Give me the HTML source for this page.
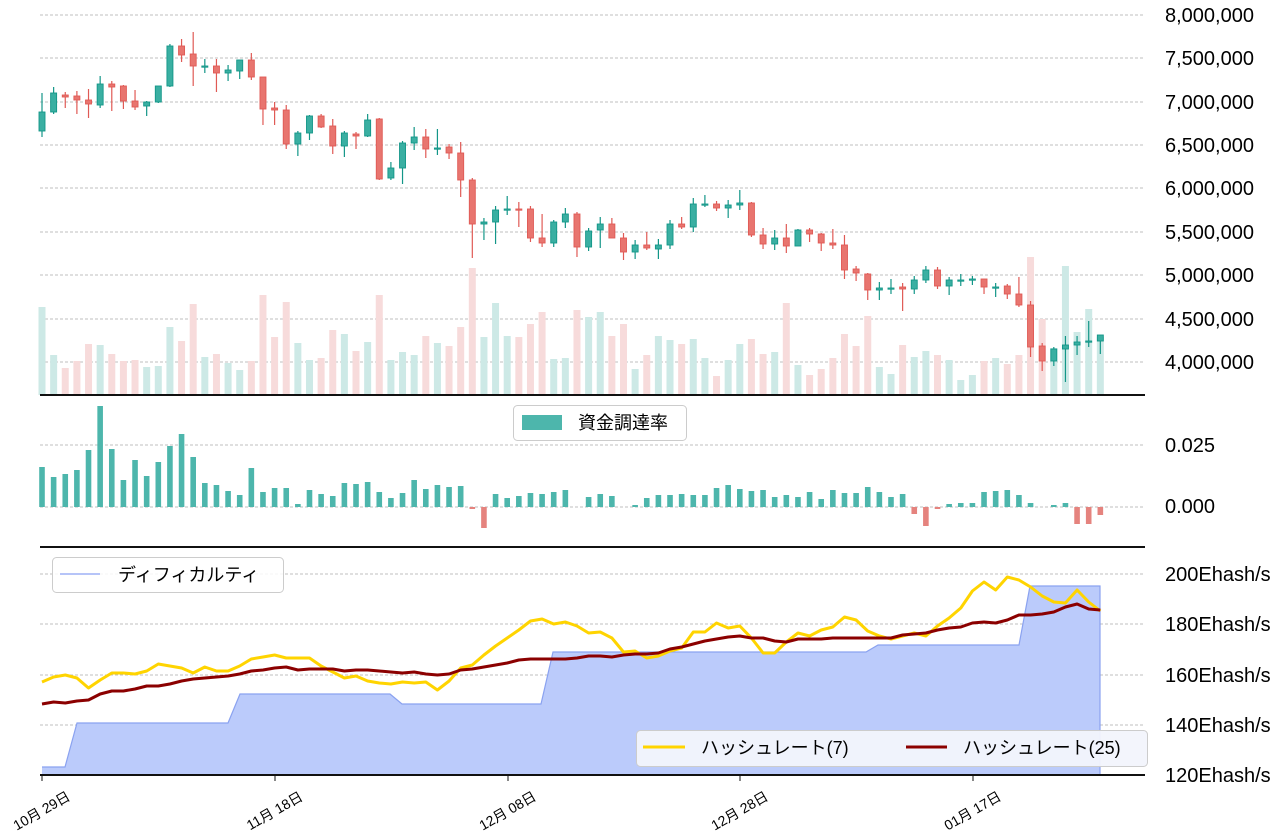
<!DOCTYPE html>
<html><head><meta charset="utf-8"><style>
body{margin:0;background:#fff;width:1285px;height:838px;overflow:hidden}
svg{display:block;font-family:"Liberation Sans","Noto Sans CJK JP",sans-serif}
</style></head><body>
<svg id="s" width="1285" height="838" xmlns="http://www.w3.org/2000/svg">
<g id="grid" stroke="#aaa" stroke-dasharray="3,2" stroke-width="0.8"></g>
<g id="vol"></g><g id="cand"></g><g id="fund"></g><g id="hash"></g>
<g fill="#000" font-size="20">
<text x="1165" y="22">8,000,000</text><text x="1165" y="65">7,500,000</text><text x="1165" y="109">7,000,000</text>
<text x="1165" y="152">6,500,000</text><text x="1165" y="195">6,000,000</text><text x="1165" y="239">5,500,000</text>
<text x="1165" y="282">5,000,000</text><text x="1165" y="326">4,500,000</text><text x="1165" y="369">4,000,000</text>
<text x="1165" y="452">0.025</text><text x="1165" y="513">0.000</text>
<text x="1165" y="581">200Ehash/s</text><text x="1165" y="631">180Ehash/s</text><text x="1165" y="682">160Ehash/s</text>
<text x="1165" y="732">140Ehash/s</text><text x="1165" y="782">120Ehash/s</text>
</g>
<g stroke="#111" stroke-width="2"><line x1="40" y1="395" x2="1145" y2="395"/><line x1="40" y1="547" x2="1145" y2="547"/><line x1="40" y1="775" x2="1145" y2="775"/></g>
<g stroke="#111" stroke-width="1"><line x1="42" y1="775" x2="42" y2="781"/><line x1="275" y1="775" x2="275" y2="781"/><line x1="508" y1="775" x2="508" y2="781"/><line x1="740" y1="775" x2="740" y2="781"/><line x1="973" y1="775" x2="973" y2="781"/></g>
<g font-size="14" fill="#000" text-anchor="middle">
<text transform="translate(44,815) rotate(-30)">10月 29日</text>
<text transform="translate(277,815) rotate(-30)">11月 18日</text>
<text transform="translate(510,815) rotate(-30)">12月 08日</text>
<text transform="translate(742,815) rotate(-30)">12月 28日</text>
<text transform="translate(975,815) rotate(-30)">01月 17日</text>
</g>
<rect x="513.5" y="405.5" width="173" height="35" rx="4" fill="#fff" stroke="#ccc"/>
<rect x="522" y="415" width="40" height="15" fill="#4db6ac"/>
<text x="578" y="429" font-size="18">資金調達率</text>
<rect x="52.5" y="557.5" width="231" height="35" rx="4" fill="#fff" fill-opacity="0.85" stroke="#ccc"/>
<line x1="60" y1="574" x2="100" y2="574" stroke="#9db0f5" stroke-width="1.5"/>
<text x="118" y="581" font-size="18">ディフィカルティ</text>
<rect x="636.5" y="730.5" width="511" height="36" rx="4" fill="#f2f4fc" fill-opacity="0.95" stroke="#ccc"/>
<line x1="643" y1="747" x2="685" y2="747" stroke="#ffd400" stroke-width="3"/>
<text x="701" y="754" font-size="18">ハッシュレート(7)</text>
<line x1="906" y1="747" x2="947" y2="747" stroke="#8b0000" stroke-width="3"/>
<text x="963" y="754" font-size="18">ハッシュレート(25)</text>
</svg>
<script>
var NS="http://www.w3.org/2000/svg";
function el(p,t,a){var e=document.createElementNS(NS,t);for(var k in a)e.setAttribute(k,a[k]);document.getElementById(p).appendChild(e);return e;}
[15,58,102,145,188,232,275,319,362,445,507,574,624,675,725].forEach(function(y){el("grid","line",{x1:40,x2:1145,y1:y,y2:y});});
var C=[[131,112,93,137],[112,93,87,114],[95,97,92,108],[96,100,91,114],[100,104,89,118],[105,84,76,108],[84,87,81,111],[86,101,85,109],[101,107,90,110],[106,102,101,116],[102,86,86,103],[86,46,44,87],[46,55,39,62],[54,66,32,86],[66.5,66,59,73],[66,73,59,92],[73,70,65,81],[71,60,60,79],[60,77,53,80],[77,109,77,125],[108,110,102,125],[110,144,105,149],[144,133,131,156],[133,116,115,140],[116,127,114,128],[126,146,119,154],[146,133,131,157],[134,136,132,149],[136,120,114,137],[119,179,118,180],[178,168,162,180],[168,143,141,184],[143,137,127,150],[137,149,129,158],[148.5,148,129,155],[147,153,144,159],[153,180,142,197],[180,224,178,258],[224,222,218,240],[222,210,206,244],[210,209,196,215],[209,209.5,202,227],[209,238,206,242],[238,243,214,247],[243,222,220,247],[222,214,208,228],[214,247,212,257],[247,231,228,251],[230,224,217,248],[224,238,218,238],[238,252,233,260],[252,245,240,259],[245,248,232,250],[249,245,239,259],[245,224,220,249],[224,227,217,229],[227,204,198,232],[204.5,204,195,207],[204,208,201,211],[208,205,200,218],[205,203,190,210],[203,235,202,237],[235,244,228,249],[244,238,230,250],[238,246,224,253],[246,230,229,246],[230,234,228,242],[234,243,233,251],[243,245,229,249],[245,270,235,279],[269,273,266,281],[274,290,273,300],[290,288,282,300],[288.5,288,279,294],[287,289,283,311],[289,280,276,294],[280,270,266,283],[270,286,267,289],[286,280,277,295],[280.5,280,274,286],[280,279,276,285],[279,287,279,294],[287.5,287,283,297],[286,294,284,299],[294,305,277,307],[305,347,301,357],[346,361,343,371],[361,349,347,366],[349,345,336,382],[345,342,336,355],[342,341,321,347],[341,335,335,354]];
var V=[307,355,368,361,344,345,354,361,360,367,366,327,341,304,357,354,363,370,361,295,337,302,343,360,358,330,334,351,342,295,360,352,355,336,343,346,327,268,337,303,336,337,324,312,359,358,310,317,312,336,324,369,355,336,340,344,339,358,376,360,344,339,354,352,303,365,375,369,358,334,346,316,367,374,345,357,351,355,360,380,375,361,358,364,355,257,319,348,266,332,309,337];
var dx=11.63;
C.forEach(function(c,i){var x=42+dx*i;
 var g=c[1]<c[0];var col=g?"#139688":"#e05a55",fill=g?"#3aafa2":"#e8756f";
 el("vol","rect",{x:x-3.5,y:V[i],width:7,height:395-V[i],fill:g?"#cde9e6":"#f7dbdb"});
 el("cand","line",{x1:x,x2:x,y1:c[2],y2:c[3],stroke:col,"stroke-width":1.2});
 var t=Math.min(c[0],c[1]),h=Math.max(Math.abs(c[0]-c[1]),1.2);
 el("cand","rect",{x:x-3,y:t,width:6,height:h,fill:fill,stroke:col,"stroke-width":0.9});
});
var F=[40,30,33,37,57,101,58,27,47,31,45,61,73,50,24,22,16,12,39,15,19,19,3,17,13,11,24,23,25,15,9,14,27,18,22,20,21,-2,-21,13,9,11,14,13,15,17,0,10,13,11,0,2,9,12,12,13,12,12,19,22,18,16,17,10,12,10,15,8,17,14,14,20,15,10,13,-7,-19,-2,3,4,4,15,16,17,12,4,0,2,4,-17,-17,-8];
F.forEach(function(v,i){if(!v)return;var x=42+dx*i,s=v*1.0;
 el("fund","rect",{x:x-2.8,y:v>0?507-s:507,width:5.6,height:Math.abs(s),fill:v>0?"#4db6ac":"#e5837e"});});
var D="42,775 42,767 65,767 77,723 228,723 240,694 390,694 402,704 541,704 553,652 866,652 878,645 1019,645 1030,586 1100,586 1100,775";
el("hash","polygon",{points:D,fill:"#bbcbfb"});
el("hash","polyline",{points:"42,767 65,767 77,723 228,723 240,694 390,694 402,704 541,704 553,652 866,652 878,645 1019,645 1030,586 1100,586 1100,775",fill:"none",stroke:"#8aa2f0","stroke-width":1.2});
var Y=[682,677,675,678,688,680,673,673,674,671,664,666,668,673,667,671,671,666,659,657,655,658,658,658,666,672,678,676,681,683,684,682,683,682,690,681,668,665,655,646,638,630,621,619,624,622,626,633,632,638,652,651,658,656,651,648,632,632,623,628,626,638,653,653,642,633,636,630,627,617,620,631,636,639,636,633,636,626,618,608,591,582,590,577,580,587,596,602,603,590,602,611];
var R=[704,702,703,701,700,694,691,691,689,686,686,684,681,679,678,677,676,674,671,670,668,667,670,669,669,669,671,670,670,671,672,673,672,674,675,674,670,669,667,665,663,660,659,659,659,659,658,656,656,657,655,654,654,653,649,647,644,641,639,637,636,638,638,641,642,639,639,639,638,638,638,638,638,638,635,634,633,630,628,627,623,622,623,620,615,615,614,612,607,604,609,610];
function pl(a,c){el("hash","polyline",{points:a.map(function(y,i){return (42+dx*i).toFixed(1)+","+y}).join(" "),fill:"none",stroke:c,"stroke-width":3,"stroke-linejoin":"round"});}
pl(Y,"#ffd400");pl(R,"#8b0000");
var s=document.getElementById("s");
var leg=[].slice.call(s.querySelectorAll("rect[rx],line[stroke='#ffd400'],line[stroke='#8b0000'],line[stroke='#9db0f5'],rect[fill='#4db6ac'][x='522'],text[font-size='18']"));
leg.forEach(function(n){s.appendChild(n);});
</script>
</body></html>
